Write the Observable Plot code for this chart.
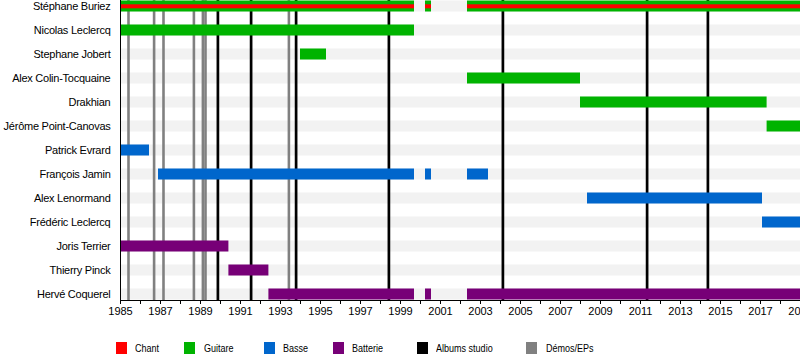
<!DOCTYPE html>
<html>
<head>
<meta charset="utf-8">
<script src="https://cdn.jsdelivr.net/npm/d3@7"></script>
<script src="https://cdn.jsdelivr.net/npm/@observablehq/plot@0.6"></script>
<style>
  body { margin: 0; background: #fff; font-family: "Liberation Sans", Arial, sans-serif; }
  #chart { position: relative; width: 800px; height: 360px; overflow: hidden; }
  .names text { letter-spacing: -0.25px; }
  .legend { position: absolute; top: 342px; left: 0; width: 800px; height: 14px; font-size: 11px; color: #000; }
  .legend .sw { position: absolute; top: 0; width: 11px; height: 12px; }
  .legend .lb { position: absolute; top: 0; line-height: 13px; white-space: nowrap; transform: scaleX(0.82); transform-origin: 0 0; }
</style>
</head>
<body>
<div id="chart"></div>
<script>
// Members (top to bottom)
const members = [
  "Stéphane Buriez", "Nicolas Leclercq", "Stephane Jobert", "Alex Colin-Tocquaine",
  "Drakhian", "Jérôme Point-Canovas", "Patrick Evrard", "François Jamin",
  "Alex Lenormand", "Frédéric Leclercq", "Joris Terrier", "Thierry Pinck", "Hervé Coquerel"
];

// Membership periods
const periodMember = [
  "Stéphane Buriez", "Stéphane Buriez", "Stéphane Buriez",
  "Nicolas Leclercq",
  "Stephane Jobert",
  "Alex Colin-Tocquaine",
  "Drakhian",
  "Jérôme Point-Canovas",
  "Patrick Evrard",
  "François Jamin", "François Jamin", "François Jamin",
  "Alex Lenormand",
  "Frédéric Leclercq",
  "Joris Terrier",
  "Thierry Pinck",
  "Hervé Coquerel", "Hervé Coquerel", "Hervé Coquerel"
];
const periodStart = [
  1985, 2000.25, 2002.35,
  1985,
  1994.0,
  2002.35,
  2008.0,
  2017.33,
  1985,
  1986.9, 2000.25, 2002.35,
  2008.35,
  2017.1,
  1985,
  1990.42,
  1992.42, 2000.25, 2002.35
];
const periodEnd = [
  1999.7, 2000.55, 2019,
  1999.7,
  1995.3,
  2008.0,
  2017.33,
  2019,
  1986.45,
  1999.7, 2000.55, 2003.4,
  2017.1,
  2019,
  1990.42,
  1992.42,
  1999.7, 2000.55, 2019
];
const periodRole = [
  "Guitare", "Guitare", "Guitare",
  "Guitare",
  "Guitare",
  "Guitare",
  "Guitare",
  "Guitare",
  "Basse",
  "Basse", "Basse", "Basse",
  "Basse",
  "Basse",
  "Batterie",
  "Batterie",
  "Batterie", "Batterie", "Batterie"
];

// Secondary role (vocals) shown as a thin inner stripe
const vocalMember = ["Stéphane Buriez", "Stéphane Buriez", "Stéphane Buriez"];
const vocalStart = [1985, 2000.25, 2002.35];
const vocalEnd = [1999.7, 2000.55, 2019];

// Releases
const albumYears = [1989.87, 1991.53, 1993.78, 1998.42, 2004.12, 2011.33, 2014.37];
const demoYears = [1985.4, 1986.68, 1987.15, 1988.67, 1989.12, 1989.25, 1993.42];

// Legend
const legendLabels = ["Chant", "Guitare", "Basse", "Batterie", "Albums studio", "Démos/EPs"];
const legendColors = ["#ff0000", "#00b300", "#0066cc", "#770077", "#000000", "#808080"];

const xStart = 1985, xEnd = 2019;
const roleColor = Object.fromEntries(legendLabels.map((l, i) => [l, legendColors[i]]));

const periods = periodMember.map((m, i) => ({member: m, start: periodStart[i], end: periodEnd[i], role: periodRole[i]}));
const vocals = vocalMember.map((m, i) => ({member: m, start: vocalStart[i], end: vocalEnd[i]}));
const stripes = members.map(m => ({member: m, start: xStart, end: xEnd}));

const inset = 6.5;

const plot = Plot.plot({
  width: 800,
  height: 320,
  marginLeft: 120,
  marginRight: 0,
  marginTop: 0,
  marginBottom: 20,
  style: {fontFamily: "'Liberation Sans', Arial, sans-serif", fontSize: "11px", color: "#000", background: "transparent", overflow: "visible"},
  x: {domain: [xStart, xEnd], range: [120, 800]},
  y: {domain: members, range: [-6.55, 306.75], padding: 0},
  marks: [
    Plot.barX(stripes, {y: "member", x1: "start", x2: "end", fill: "#f2f2f2", insetTop: inset, insetBottom: inset}),
    Plot.ruleX(demoYears, {stroke: legendColors[5], strokeWidth: 2.6}),
    Plot.ruleX(albumYears, {stroke: legendColors[4], strokeWidth: 2.7}),
    Plot.barX(periods, {y: "member", x1: "start", x2: "end", fill: d => roleColor[d.role], insetTop: inset, insetBottom: inset}),
    Plot.barX(vocals, {y: "member", x1: "start", x2: "end", fill: roleColor["Chant"], insetTop: inset + 3.8, insetBottom: inset + 3.2}),
    Plot.ruleX([xStart], {stroke: "#000", strokeWidth: 1}),
    Plot.frame({anchor: "bottom", stroke: "#000"}),
    Plot.axisX({
      ticks: d3.range(1985, 2020),
      tickSize: 4,
      tickPadding: 3,
      tickFormat: d => (d % 2 === 1 ? String(d) : ""),
      fontSize: 11,
      label: null
    }),
    Plot.axisY({tickSize: 0, tickPadding: 10, fontSize: 11, label: null, className: "names"})
  ]
});

const chart = document.getElementById("chart");
chart.appendChild(plot);

const legend = document.createElement("div");
legend.className = "legend";
const swX = [116, 184, 264, 333, 417, 526];
const lbX = [135, 204, 283, 352, 436, 546];
legendLabels.forEach((l, i) => {
  const sw = document.createElement("div");
  sw.className = "sw";
  sw.style.left = swX[i] + "px";
  sw.style.background = legendColors[i];
  legend.appendChild(sw);
  const lb = document.createElement("div");
  lb.className = "lb";
  lb.style.left = lbX[i] + "px";
  lb.textContent = l;
  legend.appendChild(lb);
});
chart.appendChild(legend);
</script>
</body>
</html>
